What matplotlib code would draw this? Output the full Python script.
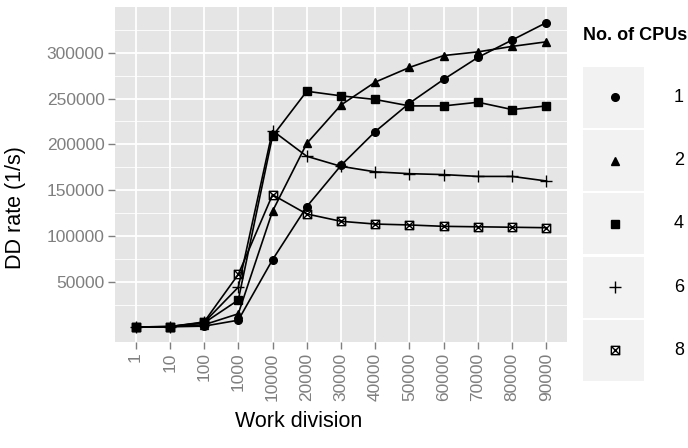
#!/usr/bin/env python3
import numpy as np
import matplotlib
matplotlib.use('Agg')
import matplotlib.pyplot as plt
from matplotlib.path import Path
from matplotlib.patches import Rectangle

# work division categories (discrete x axis)
work_division = ['1', '10', '100', '1000', '10000', '20000', '30000', '40000',
                 '50000', '60000', '70000', '80000', '90000']

# DD rate (1/s) per number of CPUs
cpu_1 = [500, 800, 1500, 8000, 74000, 132000, 177000, 214000, 245000, 271000, 295000, 314000, 333000]
cpu_2 = [500, 900, 3000, 15000, 127000, 201000, 243000, 268000, 284000, 297000, 301000, 307000, 312000]
cpu_4 = [600, 1000, 5000, 30000, 209000, 258000, 253000, 249000, 242000, 242000, 246000, 238000, 242000]
cpu_6 = [600, 1000, 5500, 44000, 215000, 187000, 176000, 170000, 168000, 167000, 165000, 165000, 160000]
cpu_8 = [600, 1000, 6000, 58000, 145000, 124000, 116000, 113000, 112000, 110500, 110000, 109500, 109000]

cpu_labels = ['1', '2', '4', '6', '8']
y_ticks = [50000, 100000, 150000, 200000, 250000, 300000]

# square with a cross inside (ggplot shape 7)
crossbox = Path([(-1, -1), (1, -1), (1, 1), (-1, 1), (-1, -1),
                 (-1, -1), (1, 1), (-1, 1), (1, -1)],
                [Path.MOVETO, Path.LINETO, Path.LINETO, Path.LINETO, Path.CLOSEPOLY,
                 Path.MOVETO, Path.LINETO, Path.MOVETO, Path.LINETO])

styles = [
    dict(marker='o', ms=5.5, mfc='black'),
    dict(marker='^', ms=6, mfc='black'),
    dict(marker='s', ms=5.2, mfc='black'),
    dict(marker='+', ms=8.5, mew=1.0),
    dict(marker=crossbox, ms=6, mfc='none', mew=1.0),
]

plt.rcParams['font.family'] = ['Liberation Sans', 'DejaVu Sans']

W, H = 688, 448
fig = plt.figure(figsize=(W / 100, H / 100), dpi=100)
ax = fig.add_axes([115 / W, 1 - 342 / H, 452 / W, 335 / H])
ax.set_facecolor('#E5E5E5')
for s in ax.spines.values():
    s.set_visible(False)

x = np.arange(len(work_division))
series = [cpu_1, cpu_2, cpu_4, cpu_6, cpu_8]
for vals, st in zip(series, styles):
    ax.plot(x, vals, color='black', lw=1.2, mec='black', zorder=3, **st)

ax.set_xlim(-0.6, len(work_division) - 0.4)
ax.set_ylim(-15800, 350000)

ax.set_xticks(x)
ax.set_xticklabels(work_division, rotation=90, color='#7F7F7F', fontsize=12.5)
ax.set_yticks(y_ticks)
ax.set_yticklabels([str(v) for v in y_ticks], color='#7F7F7F', fontsize=12.5)
ax.set_yticks(np.arange(25000, 350000, 50000), minor=True)
ax.tick_params(axis='both', which='major', color='#7F7F7F', length=5, width=1, pad=2.5)
ax.tick_params(axis='y', which='minor', length=0)

ax.grid(True, which='major', color='white', lw=1.3)
ax.grid(True, which='minor', axis='y', color='white', lw=0.6)
ax.set_axisbelow(True)

fig.text(299 / W, 1 - 421 / H, 'Work division', ha='center', va='center', fontsize=15.5)
fig.text(16 / W, 1 - 208 / H, 'DD rate (1/s)', ha='center', va='center',
         rotation=90, fontsize=15.5)

# legend drawn by hand in pixel coordinates
lax = fig.add_axes([0, 0, 1, 1])
lax.set_xlim(0, W)
lax.set_ylim(H, 0)
lax.axis('off')
lax.text(583, 36, 'No. of CPUs', fontsize=13, fontweight='bold', va='center', ha='left')
key_top = 67
key_step = 63.2
for i, (lab, st) in enumerate(zip(cpu_labels, styles)):
    top = key_top + i * key_step
    lax.add_patch(Rectangle((583, top), 61, 61, facecolor='#F2F2F2', edgecolor='none'))
    lax.plot([615], [top + 30.5], color='black', mec='black', ls='none', **st)
    lax.text(674, top + 30.5, lab, fontsize=13, va='center', ha='left')

fig.savefig('out.png', dpi=100)
